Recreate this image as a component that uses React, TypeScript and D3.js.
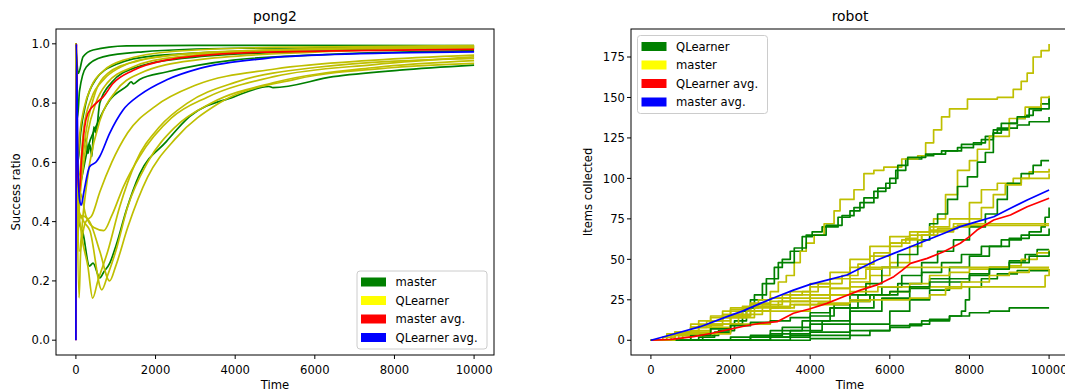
import React from 'react';
import * as d3 from 'd3';

type Pt = [number, number];

// ---- pong2 (Success ratio vs Time) ----
const pongXTicks = [0, 2000, 4000, 6000, 8000, 10000];
const pongYTicks = [0, 0.2, 0.4, 0.6, 0.8, 1.0];

const pongMaster: Pt[][] = [
  [[0, 1], [60, 0.9], [180, 0.956], [430, 0.979], [1270, 0.993], [3000, 0.995], [10000, 0.994]],
  [[0, 1], [40, 0.75], [90, 0.84], [260, 0.922], [680, 0.956], [1680, 0.973], [4000, 0.985], [10000, 0.99]],
  [[0, 1], [50, 0.6], [120, 0.7], [250, 0.8], [500, 0.88], [1000, 0.93], [2000, 0.96], [5000, 0.978], [10000, 0.986]],
  [[0, 1], [60, 0.5], [150, 0.55], [300, 0.65], [500, 0.72], [850, 0.81], [1300, 0.86], [1390, 0.872], [1440, 0.865], [1600, 0.88], [2270, 0.905], [3950, 0.945], [6500, 0.965], [10000, 0.977]],
  [[0, 1], [50, 0.45], [150, 0.6], [250, 0.68], [300, 0.63], [350, 0.66], [400, 0.62], [450, 0.72], [500, 0.7], [600, 0.8], [900, 0.87], [1500, 0.92], [3000, 0.955], [6000, 0.975], [10000, 0.984]],
  [[0, 1], [20, 0.55], [80, 0.4], [180, 0.36], [340, 0.25], [430, 0.26], [600, 0.21], [700, 0.23], [850, 0.26], [1010, 0.32], [1270, 0.44], [1600, 0.56], [2270, 0.67], [2860, 0.755], [3950, 0.82], [4850, 0.856], [4950, 0.852], [6460, 0.889], [8130, 0.911], [10000, 0.928]],
];

const pongQLearner: Pt[][] = [
  [[0, 1], [40, 0.6], [100, 0.7], [200, 0.78], [400, 0.86], [700, 0.91], [1200, 0.945], [2500, 0.975], [5000, 0.988], [10000, 0.994]],
  [[0, 1], [60, 0.45], [150, 0.55], [300, 0.7], [500, 0.8], [800, 0.87], [1400, 0.92], [2500, 0.955], [5000, 0.978], [10000, 0.99]],
  [[0, 1], [80, 0.3], [200, 0.45], [350, 0.6], [600, 0.74], [1000, 0.84], [1600, 0.9], [3000, 0.945], [6000, 0.972], [10000, 0.985]],
  [[0, 1], [50, 0.35], [100, 0.5], [250, 0.7], [450, 0.82], [800, 0.9], [1500, 0.94], [3000, 0.968], [6000, 0.983], [10000, 0.992]],
  [[0, 1], [70, 0.55], [200, 0.72], [400, 0.82], [700, 0.88], [1100, 0.92], [2000, 0.955], [4000, 0.975], [10000, 0.988]],
  [[0, 1], [30, 0.5], [80, 0.143], [120, 0.3], [250, 0.4], [400, 0.42], [600, 0.5], [900, 0.6], [1300, 0.7], [2000, 0.79], [3000, 0.86], [5000, 0.915], [7500, 0.945], [10000, 0.962]],
  [[0, 1], [40, 0.5], [150, 0.35], [300, 0.25], [420, 0.142], [550, 0.2], [800, 0.3], [1100, 0.45], [1500, 0.6], [2100, 0.72], [2800, 0.8], [4000, 0.87], [6000, 0.92], [10000, 0.951]],
  [[0, 1], [50, 0.45], [200, 0.4], [350, 0.37], [650, 0.17], [800, 0.22], [1000, 0.3], [1300, 0.45], [1800, 0.6], [2500, 0.72], [3400, 0.8], [5000, 0.87], [7500, 0.92], [10000, 0.943]],
  [[0, 1], [40, 0.4], [150, 0.42], [344, 0.4], [600, 0.3], [847, 0.2], [1000, 0.25], [1300, 0.38], [1800, 0.55], [2500, 0.68], [3600, 0.8], [5500, 0.88], [8000, 0.92], [10000, 0.934]],
  [[0, 1], [30, 0.45], [100, 0.5], [250, 0.42], [450, 0.38], [700, 0.37], [900, 0.42], [1200, 0.52], [1600, 0.62], [2400, 0.75], [3300, 0.82], [5000, 0.89], [7500, 0.93], [10000, 0.956]],
];

const pongMasterAvg: Pt[] = [[0, 0], [15, 1.0], [50, 0.55], [90, 0.5], [135, 0.6], [220, 0.72], [300, 0.765], [510, 0.8], [680, 0.82], [930, 0.866], [1430, 0.91], [2270, 0.945], [3950, 0.968], [6460, 0.976], [10000, 0.981]];
const pongQLearnerAvg: Pt[] = [[0, 0], [10, 1.0], [50, 0.6], [93, 0.473], [135, 0.456], [200, 0.5], [344, 0.585], [512, 0.602], [595, 0.619], [847, 0.698], [1180, 0.776], [1600, 0.827], [2270, 0.878], [3110, 0.917], [4780, 0.951], [6460, 0.964], [10000, 0.973]];

// ---- robot (Items collected vs Time) ----
const robotXTicks = [0, 2000, 4000, 6000, 8000, 10000];
const robotYTicks = [0, 25, 50, 75, 100, 125, 150, 175];

const robotQLearner: Pt[][] = [
  [[0, 0], [800, 0], [1200, 2], [1600, 5], [2000, 10], [2300, 18], [2500, 25], [2800, 35], [3100, 45], [3300, 50], [3500, 55], [3800, 64], [4050, 67], [4300, 70], [4700, 76], [5000, 80], [5250, 85], [5600, 92], [5900, 97], [6150, 105], [6400, 112], [6800, 114], [7100, 115], [7400, 117], [7700, 119], [8100, 122], [8400, 126], [8600, 130], [9000, 134], [9200, 137], [9400, 139], [9600, 142], [9800, 146], [10000, 150]],
  [[0, 0], [900, 0], [1300, 3], [1700, 6], [2100, 12], [2400, 20], [2600, 28], [2900, 38], [3200, 48], [3600, 57], [3900, 65], [4400, 71], [4800, 77], [5100, 82], [5350, 88], [5700, 94], [6000, 100], [6200, 108], [6450, 113], [6900, 115], [7300, 117], [7800, 121], [8300, 124], [8600, 128], [8700, 131], [9200, 133], [9500, 135], [10000, 138]],
  [[0, 0], [1500, 0], [2500, 3], [3300, 8], [4000, 15], [4600, 22], [5000, 28], [5400, 35], [5800, 45], [6200, 53], [6700, 62], [7000, 72], [7200, 78], [7450, 87], [7700, 95], [7950, 101], [8200, 110], [8400, 116], [8600, 128], [8800, 134], [9200, 138], [9500, 143], [10000, 149]],
  [[0, 0], [1000, 0], [2000, 2], [3000, 6], [3800, 12], [4500, 20], [5200, 28], [5800, 33], [6300, 40], [6800, 48], [7200, 55], [7600, 62], [8000, 70], [8400, 78], [8700, 87], [8950, 97], [9300, 103], [9600, 108], [9800, 111], [10000, 111]],
  [[0, 0], [2000, 0], [3000, 4], [4000, 10], [5000, 18], [5800, 26], [6500, 32], [7000, 38], [7500, 45], [8000, 52], [8500, 58], [9000, 63], [9500, 67], [9800, 70], [9900, 76], [10000, 82]],
  [[0, 0], [1000, 0], [2500, 2], [3500, 6], [4300, 12], [5000, 20], [5600, 28], [6200, 35], [6800, 42], [7300, 48], [7800, 53], [8300, 58], [8800, 62], [9300, 65], [10000, 69]],
  [[0, 0], [1500, 0], [3000, 2], [4000, 5], [5000, 10], [6000, 18], [6500, 25], [7000, 31], [7500, 36], [8000, 40], [8500, 45], [9000, 49], [9400, 53], [9700, 56], [10000, 56]],
  [[0, 0], [2000, 0], [3500, 3], [5000, 6], [6000, 9], [6800, 12], [7500, 15], [7800, 18], [7900, 25], [8000, 33], [8300, 38], [8700, 41], [9200, 43], [10000, 44]],
  [[0, 0], [2500, 0], [4000, 1], [5000, 3], [5500, 6], [6000, 8], [6500, 10], [7000, 13], [7500, 15], [8000, 17], [8500, 18], [9000, 20], [10000, 20]],
  [[0, 0], [500, 0], [1000, 3], [1500, 7], [2000, 9], [2500, 11], [3000, 12], [3500, 14], [4000, 17], [4500, 20], [5000, 24], [5500, 28], [6000, 30], [6500, 33], [7000, 36], [7500, 38], [8000, 41], [8500, 44], [9000, 48], [9500, 52], [10000, 55]],
];

const robotMaster: Pt[][] = [
  [[0, 0], [300, 2], [600, 5], [1000, 8], [1400, 12], [1800, 16], [2300, 20], [2700, 25], [3000, 30], [3200, 36], [3400, 40], [3600, 48], [3750, 55], [3900, 60], [4100, 65], [4350, 72], [4600, 80], [4750, 87], [5100, 93], [5350, 103], [5600, 105], [5850, 107], [6300, 112], [6700, 114], [6900, 122], [7100, 130], [7300, 138], [7500, 143], [7950, 149], [8700, 150], [9100, 155], [9300, 160], [9450, 165], [9600, 175], [9800, 179], [10000, 183]],
  [[0, 0], [500, 3], [1000, 8], [1500, 12], [2000, 15], [2500, 18], [3000, 20], [3500, 22], [4000, 24], [4500, 28], [5000, 33], [5500, 40], [6000, 48], [6500, 58], [6800, 65], [7100, 75], [7400, 90], [7700, 105], [8000, 111], [8200, 118], [8500, 126], [9000, 137], [9400, 144], [9800, 150], [10000, 151]],
  [[0, 0], [400, 4], [1000, 10], [1500, 15], [2000, 19], [2500, 22], [3000, 26], [3500, 30], [4000, 35], [4500, 42], [5000, 50], [5500, 58], [6000, 64], [6500, 67], [7000, 70], [7500, 75], [8000, 85], [8300, 93], [8700, 97], [9100, 100], [9500, 104], [10000, 106]],
  [[0, 0], [600, 5], [1200, 12], [1800, 18], [2300, 21], [3000, 24], [3500, 26], [4000, 28], [4500, 32], [5000, 36], [5500, 45], [6000, 58], [6300, 62], [6800, 65], [7200, 67], [7600, 70], [8000, 75], [8300, 82], [8600, 90], [8900, 96], [9300, 100], [10000, 103]],
  [[0, 0], [500, 4], [1000, 8], [1500, 14], [2000, 20], [2500, 23], [3000, 26], [3500, 28], [4000, 33], [4500, 38], [5000, 45], [5500, 52], [6000, 60], [6500, 65], [7000, 68], [7600, 72], [10000, 72]],
  [[0, 0], [800, 5], [1500, 10], [2200, 16], [2800, 22], [3300, 28], [3800, 30], [4200, 35], [4800, 40], [5200, 47], [5600, 54], [6000, 60], [6400, 63], [6700, 67], [7200, 69], [7700, 71], [10000, 71]],
  [[0, 0], [1000, 4], [2000, 10], [3000, 18], [4000, 22], [5000, 25], [5500, 28], [6000, 30], [6500, 35], [7000, 40], [7500, 42], [8000, 44], [8500, 45], [9000, 46], [9300, 50], [9700, 54], [10000, 56]],
  [[0, 0], [700, 3], [1500, 8], [2000, 14], [2600, 20], [3200, 24], [4000, 28], [4500, 32], [5000, 38], [5400, 44], [5800, 45], [10000, 45]],
  [[0, 0], [500, 3], [1000, 6], [1500, 10], [2000, 15], [2500, 18], [3000, 21], [3500, 24], [4000, 26], [4500, 28], [5000, 30], [5700, 33], [9800, 33], [9900, 40], [10000, 44]],
  [[0, 0], [600, 4], [1200, 9], [1800, 14], [2400, 18], [3000, 20], [3600, 22], [4200, 23], [5000, 24], [5500, 25], [6500, 26], [7000, 28], [7400, 32], [7800, 36], [8500, 40], [9000, 42], [9500, 44], [10000, 44]],
];

const robotQLearnerAvg: Pt[] = [[0, 0], [500, 0.5], [1070, 2.2], [1500, 4.2], [1910, 6.4], [2300, 8.5], [2750, 10.5], [3170, 11.5], [3580, 16.7], [4000, 19.5], [4420, 22.8], [4850, 27], [5260, 31], [5680, 34.2], [6100, 39.3], [6300, 43], [6520, 47.5], [6940, 50.6], [7350, 54.7], [7770, 59.9], [8000, 64], [8190, 68.1], [8610, 74.3], [9030, 77.4], [9450, 82.5], [10000, 87.7]];
const robotMasterAvg: Pt[] = [[0, 0], [600, 4], [1240, 8.4], [1910, 14.6], [2300, 18], [2750, 22.8], [3170, 27], [3580, 31], [4000, 34.5], [4420, 37.2], [4920, 40.3], [5300, 45], [5680, 49.6], [6100, 53.7], [6520, 57.8], [6940, 62], [7350, 66], [7770, 70.2], [8190, 73.3], [8610, 76.3], [9030, 81.5], [9450, 86.7], [10000, 92.8]];

const GREEN = '#008000';
const OLIVE = '#bfbf00';
const FONT = 'DejaVu Sans, sans-serif';

const W = 1065;
const H = 391;

interface LegendItem { label: string; color: string }
interface Series { pts: Pt[]; color: string; curve: d3.CurveFactory }

function Legend({ x, y, w, items }: { x: number; y: number; w: number; items: LegendItem[] }) {
  const rowH = 18.5;
  return (
    <g>
      <rect x={x} y={y} width={w} height={items.length * rowH + 4} rx={3} fill="white" fillOpacity={0.8} stroke="#cccccc" strokeWidth={1} />
      {items.map((it, i) => {
        const cy = y + 11 + i * rowH;
        return (
          <g key={it.label}>
            <rect x={x + 4} y={cy - 4.5} width={25} height={9} fill={it.color} />
            <text x={x + 38.5} y={cy + 4} fontSize={11.6} fontFamily={FONT} fill="#000">{it.label}</text>
          </g>
        );
      })}
    </g>
  );
}

interface PanelProps {
  id: string;
  left: number;
  title: string;
  yLabel: string;
  yLabelX: number;
  yDomain: [number, number];
  yTicks: number[];
  yFormat: (v: number) => string;
  xTicks: number[];
  lines: Series[];
  legend: LegendItem[];
  legendPos: { x: number; y: number; w: number };
}

function Panel(p: PanelProps) {
  const top = 29;
  const bottom = 355;
  const width = 438;
  const x = d3.scaleLinear().domain([-500, 10500]).range([p.left, p.left + width]);
  const y = d3.scaleLinear().domain(p.yDomain).range([bottom, top]);
  const cx = p.left + width / 2;
  return (
    <g>
      <clipPath id={p.id}>
        <rect x={p.left} y={top} width={width} height={bottom - top} />
      </clipPath>
      <g clipPath={`url(#${p.id})`}>
        {p.lines.map((l, i) => {
          const line = d3.line<Pt>().x(d => x(d[0])).y(d => y(d[1])).curve(l.curve);
          return <path key={i} d={line(l.pts) || ''} fill="none" stroke={l.color} strokeWidth={1.7} strokeLinejoin="round" />;
        })}
      </g>
      <rect x={p.left} y={top} width={width} height={bottom - top} fill="none" stroke="#000" strokeWidth={1} />
      {p.xTicks.map(t => (
        <g key={t}>
          <line x1={x(t)} x2={x(t)} y1={bottom} y2={bottom + 4} stroke="#000" strokeWidth={1} />
          <text x={x(t)} y={bottom + 19} textAnchor="middle" fontSize={11.6} fontFamily={FONT} fill="#000">{t}</text>
        </g>
      ))}
      {p.yTicks.map(t => (
        <g key={t}>
          <line x1={p.left - 4} x2={p.left} y1={y(t)} y2={y(t)} stroke="#000" strokeWidth={1} />
          <text x={p.left - 6} y={y(t) + 4.2} textAnchor="end" fontSize={11.6} fontFamily={FONT} fill="#000">{p.yFormat(t)}</text>
        </g>
      ))}
      <text x={cx} y={21} textAnchor="middle" fontSize={13.9} fontFamily={FONT} fill="#000">{p.title}</text>
      <text x={cx} y={389} textAnchor="middle" fontSize={11.6} fontFamily={FONT} fill="#000">Time</text>
      <text transform={`translate(${p.yLabelX},${(top + bottom) / 2}) rotate(-90)`} textAnchor="middle" fontSize={11.6} fontFamily={FONT} fill="#000">{p.yLabel}</text>
      <Legend {...p.legendPos} items={p.legend} />
    </g>
  );
}

export default function App() {
  const smooth = d3.curveMonotoneX;
  const step = d3.curveStepAfter;
  const pongLines: Series[] = [
    ...pongMaster.map(pts => ({ pts, color: GREEN, curve: smooth })),
    ...pongQLearner.map(pts => ({ pts, color: OLIVE, curve: smooth })),
    { pts: pongMasterAvg, color: 'red', curve: smooth },
    { pts: pongQLearnerAvg, color: 'blue', curve: smooth },
  ];
  const robotLines: Series[] = [
    ...robotQLearner.flatMap((pts, i) => [
      { pts, color: GREEN, curve: step },
      { pts: robotMaster[i], color: OLIVE, curve: step },
    ]),
    { pts: robotQLearnerAvg, color: 'red', curve: d3.curveLinear },
    { pts: robotMasterAvg, color: 'blue', curve: d3.curveLinear },
  ];
  return (
    <div style={{ position: 'absolute', left: 0, top: 0 }}>
      <svg width={W} height={H} style={{ display: 'block', background: 'white' }}>
        <Panel
          id="clip-pong"
          left={56}
          title="pong2"
          yLabel="Success ratio"
          yLabelX={20}
          yDomain={[-0.05, 1.05]}
          yTicks={pongYTicks}
          yFormat={d3.format('.1f')}
          xTicks={pongXTicks}
          lines={pongLines}
          legend={[
            { label: 'master', color: GREEN },
            { label: 'QLearner', color: '#ffff00' },
            { label: 'master avg.', color: 'red' },
            { label: 'QLearner avg.', color: 'blue' },
          ]}
          legendPos={{ x: 357, y: 271, w: 130 }}
        />
        <Panel
          id="clip-robot"
          left={631}
          title="robot"
          yLabel="Items collected"
          yLabelX={592}
          yDomain={[-9.1, 192.3]}
          yTicks={robotYTicks}
          yFormat={d3.format('d')}
          xTicks={robotXTicks}
          lines={robotLines}
          legend={[
            { label: 'QLearner', color: GREEN },
            { label: 'master', color: '#ffff00' },
            { label: 'QLearner avg.', color: 'red' },
            { label: 'master avg.', color: 'blue' },
          ]}
          legendPos={{ x: 637.5, y: 35.5, w: 130 }}
        />
      </svg>
    </div>
  );
}
